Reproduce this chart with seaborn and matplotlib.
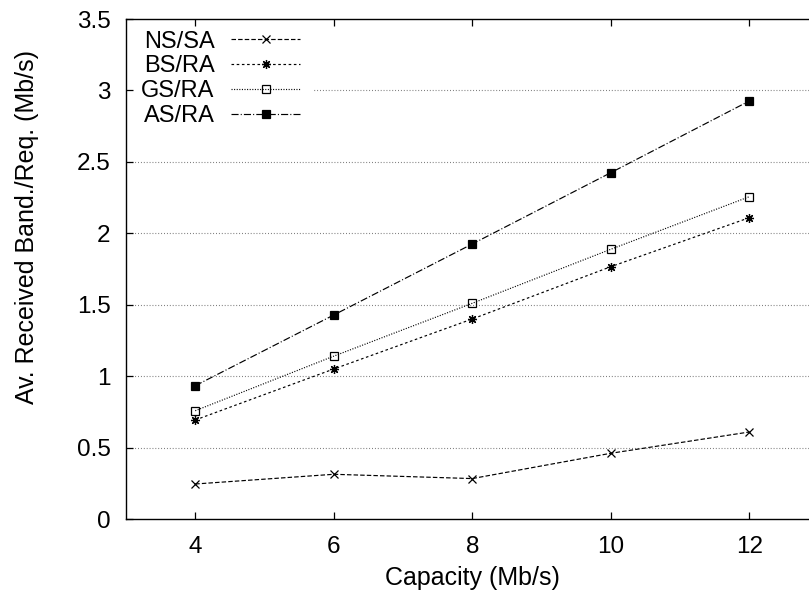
import matplotlib
matplotlib.use("Agg")
import matplotlib.pyplot as plt
import seaborn as sns
import pandas as pd

# Average received bandwidth per request vs. link capacity
capacity = [4, 6, 8, 10, 12]
ns_sa = [0.245, 0.313, 0.283, 0.46, 0.609]
bs_ra = [0.693, 1.05, 1.40, 1.766, 2.109]
gs_ra = [0.758, 1.14, 1.51, 1.888, 2.256]
as_ra = [0.933, 1.428, 1.925, 2.424, 2.926]

series_names = ["NS/SA", "BS/RA", "GS/RA", "AS/RA"]
series_values = [ns_sa, bs_ra, gs_ra, as_ra]

yticks = [0, 0.5, 1, 1.5, 2, 2.5, 3, 3.5]
ytick_labels = ["0", "0.5", "1", "1.5", "2", "2.5", "3", "3.5"]
xticks = [4, 6, 8, 10, 12]

sns.set_theme(style="white")
plt.rcParams["font.family"] = ["Liberation Sans", "DejaVu Sans"]

FS = 17.5    # tick labels
LABFS = 18   # axis titles
LFS = 17     # legend
W, H = 809, 597
fig = plt.figure(figsize=(W / 100, H / 100), dpi=100)
left_px, bottom_px, top_px = 126, 519, 19
ax_w_px = 692.5
ax = fig.add_axes([left_px / W, (H - bottom_px) / H, ax_w_px / W, (bottom_px - top_px) / H])

styles = {
    "NS/SA": dict(marker="x", markersize=5.5, dashes=(3.8, 1.8), mfc="black"),
    "BS/RA": dict(marker=(8, 2, 0), markersize=6.5, dashes=(2.2, 2.2), mfc="black"),
    "GS/RA": dict(marker="s", markersize=5.5, dashes=(0.9, 1.3), mfc="none"),
    "AS/RA": dict(marker="s", markersize=5.4, dashes=(6.0, 1.8, 0.9, 1.8), mfc="black"),
}

df = pd.DataFrame({
    "capacity": capacity * len(series_names),
    "value": [v for vals in series_values for v in vals],
    "series": [n for n in series_names for _ in capacity],
})

for name in series_names:
    sub = df[df["series"] == name]
    st = styles[name]
    sns.lineplot(data=sub, x="capacity", y="value", ax=ax, color="black",
                 linewidth=0.85, marker=st["marker"], markersize=st["markersize"],
                 markerfacecolor=st["mfc"], markeredgecolor="black",
                 markeredgewidth=0.9, dashes=False, label=name,
                 estimator=None, sort=False, zorder=2)
    ax.lines[-1].set_dashes(st["dashes"])

ax.set_xlim(3, 13)
ax.set_ylim(0, 3.5)
ax.set_xticks(xticks)
ax.set_xticklabels([str(t) for t in xticks])
ax.set_yticks(yticks)
ax.set_yticklabels(ytick_labels)

for yv in yticks[1:-1]:
    ax.axhline(yv, color="#707070", linewidth=0.8, dashes=(0.8, 1.8), zorder=0.5)

ax.set_axisbelow(False)
ax.tick_params(axis="both", direction="in", length=5, width=0.9, color="black",
               labelsize=FS, labelcolor="black", top=True, right=True,
               bottom=True, left=True, pad=11)
ax.tick_params(axis="x", pad=12)
for s in ax.spines.values():
    s.set_color("black")
    s.set_linewidth(1.0)
    s.set_zorder(2.6)

ax.set_xlabel("Capacity (Mb/s)", fontsize=LABFS, color="black")
ax.set_ylabel("Av. Received Band./Req. (Mb/s)", fontsize=LABFS, color="black")
ax.xaxis.set_label_coords(0.5, -0.094)
ax.yaxis.set_label_coords(-0.125, 0.585)

leg = ax.legend(loc="upper left", bbox_to_anchor=(1.2 / ax_w_px, 1 + 2.5 / 500),
                markerfirst=False, frameon=True, fontsize=LFS, handlelength=2.9,
                handletextpad=0.7, labelspacing=0.12, borderaxespad=0.0,
                borderpad=0.6)
leg.set_zorder(2.2)
frame = leg.get_frame()
frame.set_facecolor("white")
frame.set_edgecolor("none")
frame.set_alpha(1.0)
frame.set_boxstyle("square", pad=0)
for t in leg.get_texts():
    t.set_color("black")

fig.savefig("out.png", dpi=100)
